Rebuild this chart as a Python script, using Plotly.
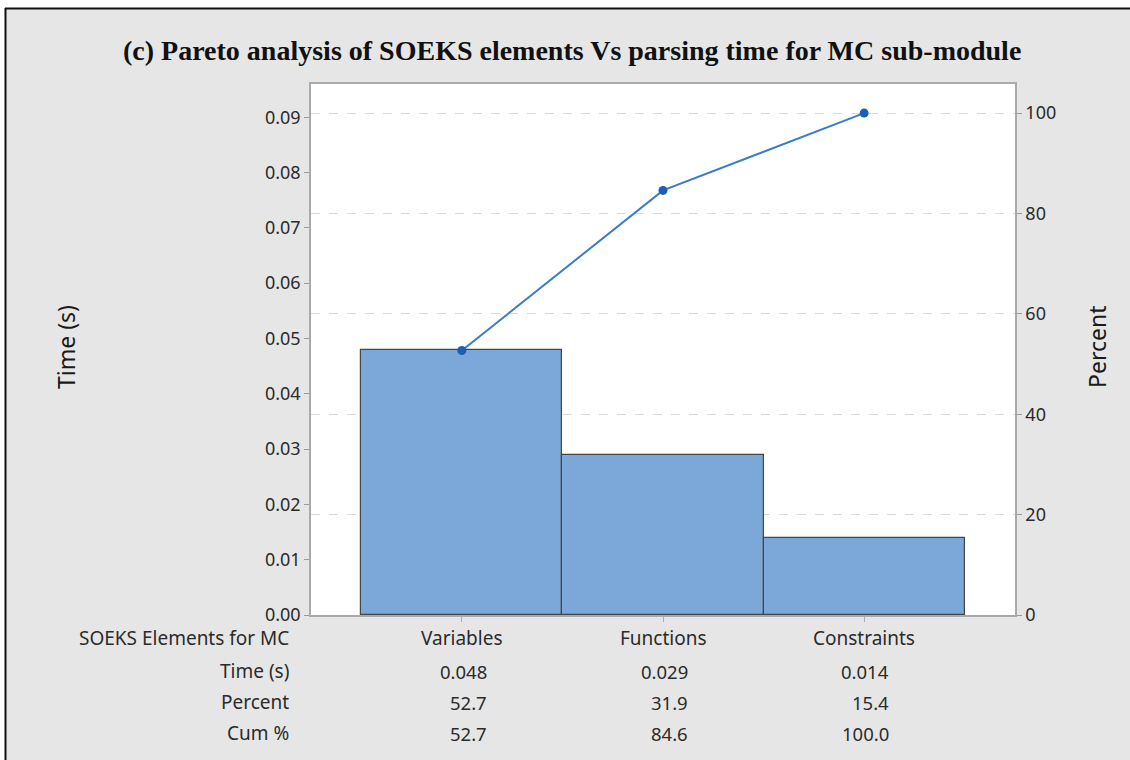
import plotly.graph_objects as go

categories = ["Variables", "Functions", "Constraints"]
time_s = [0.048, 0.029, 0.014]
percent = [52.7, 31.9, 15.4]
cum_pct = [52.7, 84.6, 100.0]
time_labels = ["0.048", "0.029", "0.014"]
percent_labels = ["52.7", "31.9", "15.4"]
cum_labels = ["52.7", "84.6", "100.0"]
row_labels = ["SOEKS Elements for MC", "Time (s)", "Percent", "Cum %"]
left_ticks = [0.00, 0.01, 0.02, 0.03, 0.04, 0.05, 0.06, 0.07, 0.08, 0.09]
right_ticks = [0, 20, 40, 60, 80, 100]

FONT = "Noto Sans"
TXT = "#2b2b2b"
BG = "#e6e6e6"

W, H = 1130, 760
L, R, T, B = 311, 115, 84, 145
pw, ph = W - L - R, H - T - B

fig = go.Figure()
fig.add_trace(go.Bar(
    x=list(range(len(categories))), y=time_s, width=1.0,
    marker=dict(color="#7ba7d9", line=dict(color="#454545", width=1.2)),
    yaxis="y", showlegend=False, hoverinfo="skip"))
fig.add_trace(go.Scatter(
    x=list(range(len(categories))), y=cum_pct, yaxis="y2", mode="lines+markers",
    line=dict(color="#3a7cc9", width=2), marker=dict(color="#1a5fb4", size=9),
    showlegend=False, hoverinfo="skip"))

annotations = []
row_y = [638, 671, 702, 733]
def py(pix):
    return (H - B - pix) / ph

for lbl, yy in zip(row_labels, row_y):
    annotations.append(dict(xref="paper", yref="paper", x=(291 - L) / pw, y=py(yy),
                            xanchor="right", yanchor="middle", text=lbl, showarrow=False,
                            font=dict(family=FONT, size=19, color=TXT)))
for i, c in enumerate(categories):
    annotations.append(dict(xref="x", yref="paper", x=i, y=py(row_y[0]), xanchor="center",
                            yanchor="middle", text=c, showarrow=False,
                            font=dict(family=FONT, size=19, color=TXT)))
    for rowvals, yy in zip([time_labels, percent_labels, cum_labels], row_y[1:]):
        annotations.append(dict(xref="x", yref="paper", x=i, xshift=27, y=py(yy),
                                xanchor="right", yanchor="middle", text=rowvals[i],
                                showarrow=False, font=dict(family=FONT, size=18.5, color=TXT)))

annotations.append(dict(xref="paper", yref="paper", x=(66 - L) / pw, y=py(347),
                        text="Time (s)", textangle=-90, showarrow=False,
                        xanchor="center", yanchor="middle",
                        font=dict(family=FONT, size=23, color="#1a1a1a")))
annotations.append(dict(xref="paper", yref="paper", x=(1097 - L) / pw, y=py(347),
                        text="Percent", textangle=-90, showarrow=False,
                        xanchor="center", yanchor="middle",
                        font=dict(family=FONT, size=23, color="#1a1a1a")))
annotations.append(dict(xref="paper", yref="paper", x=(572 - L) / pw, y=py(50),
                        text="<b>(c) Pareto analysis of SOEKS elements Vs parsing time for MC sub-module</b>",
                        showarrow=False, xanchor="center", yanchor="middle",
                        font=dict(family="Liberation Serif", size=28, color="#111")))

shapes = [
    dict(type="rect", xref="paper", yref="paper", x0=(0 - L) / pw, x1=(W - L) / pw,
         y0=py(0), y1=py(8), fillcolor="white", line=dict(width=0), layer="above"),
    dict(type="rect", xref="paper", yref="paper", x0=(0 - L) / pw, x1=(5 - L) / pw,
         y0=py(H), y1=py(0), fillcolor="white", line=dict(width=0), layer="above"),
    dict(type="line", xref="paper", yref="paper", x0=(5 - L) / pw, x1=(W - L) / pw,
         y0=py(8.5), y1=py(8.5), line=dict(color="#111", width=2), layer="above"),
    dict(type="line", xref="paper", yref="paper", x0=(5.5 - L) / pw, x1=(5.5 - L) / pw,
         y0=py(8), y1=py(H), line=dict(color="#111", width=2), layer="above"),
]

fig.update_layout(
    width=W, height=H, margin=dict(l=L, r=R, t=T, b=B, autoexpand=False),
    paper_bgcolor=BG, plot_bgcolor="white", bargap=0,
    annotations=annotations, shapes=shapes,
    xaxis=dict(range=[-0.75, 2.75], tickvals=[0, 1, 2], showticklabels=False,
               ticks="outside", ticklen=5, tickcolor="#aaaaaa", showgrid=False,
               showline=True, linecolor="#aaaaaa", linewidth=1.5, mirror=True, zeroline=False),
    yaxis=dict(range=[0, 0.0960], tickvals=left_ticks, tickformat=".2f",
               ticks="outside", ticklen=5, tickcolor="#999999", showgrid=False,
               showline=True, linecolor="#aaaaaa", linewidth=1.5, zeroline=False,
               tickfont=dict(family=FONT, size=18, color=TXT)),
    yaxis2=dict(range=[0, 105.8], tickvals=right_ticks, overlaying="y", side="right",
                ticks="outside", ticklen=5, tickcolor="#999999",
                showgrid=True, gridcolor="#d9d9d9", griddash="dash", gridwidth=1.3,
                showline=True, linecolor="#aaaaaa", linewidth=1.5, zeroline=False,
                tickfont=dict(family=FONT, size=18, color=TXT)),
)

fig.write_html("out.html", config={"displayModeBar": False},
               post_script="document.body.style.margin='0px';")
